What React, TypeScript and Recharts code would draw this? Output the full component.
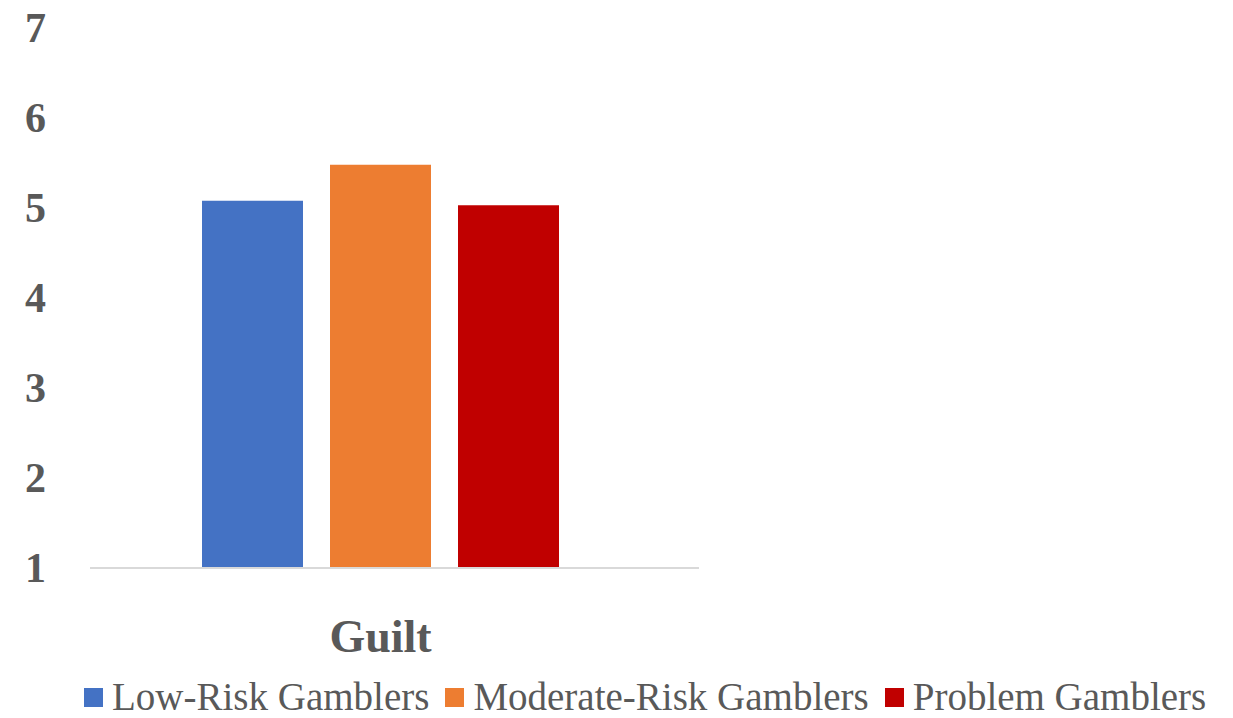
import { BarChart, Bar, XAxis, YAxis } from "recharts"

const categories = ["Guilt"]
const lowRisk = [5.08]
const moderateRisk = [5.48]
const problem = [5.03]
const yTicks = [1, 2, 3, 4, 5, 6, 7]

const SERIES = [
  { key: "low", name: "Low-Risk Gamblers", color: "#4472C4" },
  { key: "moderate", name: "Moderate-Risk Gamblers", color: "#ED7D31" },
  { key: "problem", name: "Problem Gamblers", color: "#C00000" },
]

const TEXT = "#595959"
const FONT = "'Liberation Serif', 'DejaVu Serif', serif"

const data = categories.map((c, i) => ({
  category: c,
  low: lowRisk[i],
  moderate: moderateRisk[i],
  problem: problem[i],
}))

const YTick = ({ y, payload }: any) => (
  <text x={46} y={y} dy={14} textAnchor="end" fill={TEXT} fontFamily={FONT} fontWeight="bold" fontSize={42}>
    {payload.value}
  </text>
)

const XTick = ({ x, y, payload }: any) => (
  <text x={x} y={y} dy={76} textAnchor="middle" fill={TEXT} fontFamily={FONT} fontWeight="bold" fontSize={46}>
    {payload.value}
  </text>
)

export default function App() {
  return (
    <div style={{ position: "absolute", left: 0, top: 0, width: 1233, height: 718, background: "#fff", overflow: "hidden" }}>
      <BarChart
        width={1233}
        height={718}
        data={data}
        margin={{ top: 28, right: 534, bottom: 50, left: 0 }}
        barSize={101}
        barGap={27}
      >
        <XAxis
          dataKey="category"
          tick={<XTick />}
          tickLine={false}
          axisLine={{ stroke: "#D9D9D9", strokeWidth: 2 }}
          padding={{ left: 0, right: 28 }}
          height={100}
        />
        <YAxis
          domain={[1, 7]}
          ticks={yTicks}
          tick={<YTick />}
          axisLine={false}
          tickLine={false}
          width={90}
        />
        {SERIES.map(s => (
          <Bar key={s.key} dataKey={s.key} name={s.name} fill={s.color} isAnimationActive={false} />
        ))}
      </BarChart>
      {/* legend drawn outside so it does not shrink the plot */}
      <div style={{ position: "absolute", left: 84, top: 678, display: "flex", alignItems: "center", gap: 16, fontFamily: FONT, fontSize: 39, color: TEXT, lineHeight: "38px", whiteSpace: "nowrap" }}>
        {SERIES.map(s => (
          <div key={s.key} style={{ display: "flex", alignItems: "center" }}>
            <span style={{ width: 19, height: 19, background: s.color, display: "inline-block", marginRight: 9 }} />
            <span>{s.name}</span>
          </div>
        ))}
      </div>
    </div>
  )
}
